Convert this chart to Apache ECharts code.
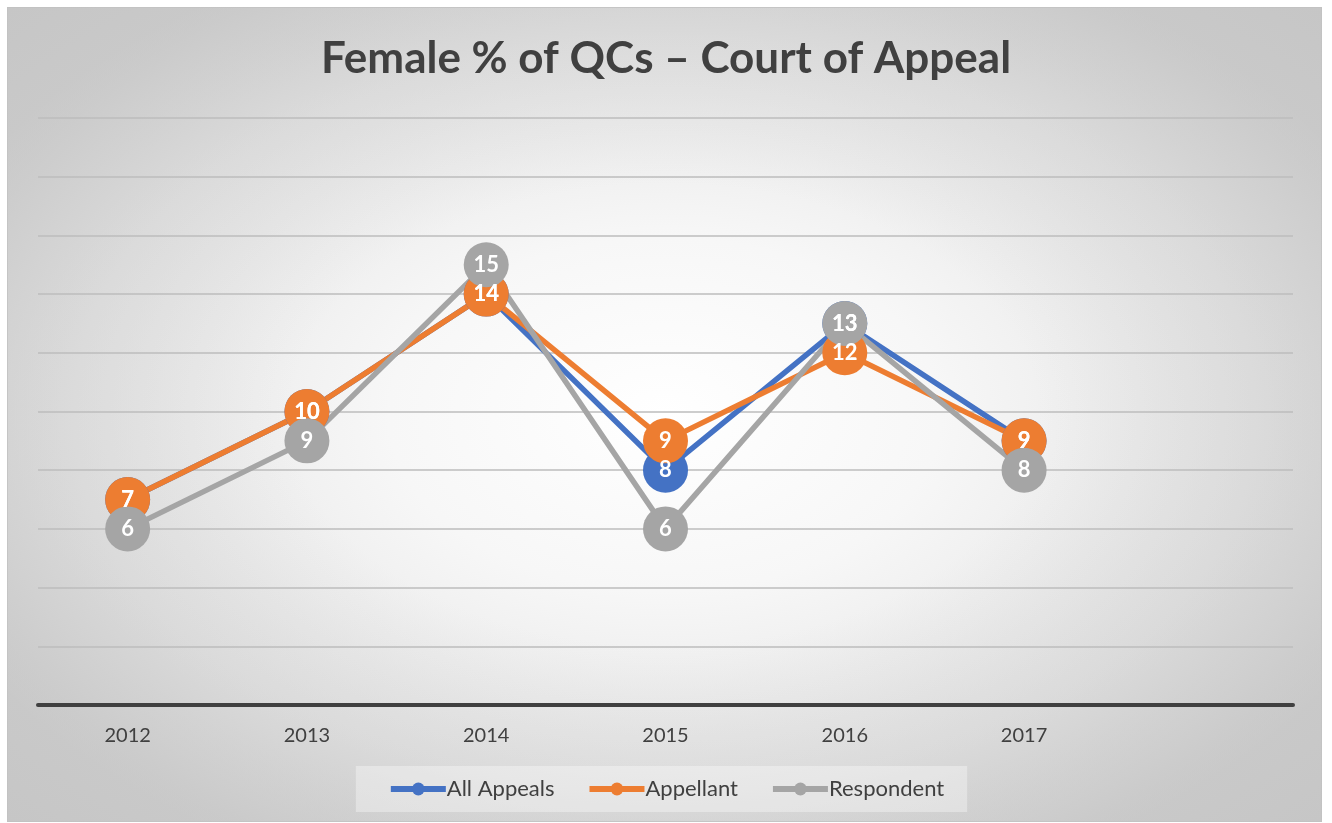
<!DOCTYPE html>
<html>
<head>
<meta charset="utf-8">
<script src="https://cdn.jsdelivr.net/npm/echarts@6/dist/echarts.min.js"></script>
<style>
  html, body { margin:0; padding:0; background:#ffffff; }
  #frame { position:absolute; left:7px; top:7px; width:1315px; height:815px; box-sizing:border-box;
    border:1px solid #c8c8c8;
    background: radial-gradient(ellipse 60% 62% at 50% 50%, #ffffff 0%, #f7f7f7 35%, #e4e4e4 75%, #d2d2d2 100%);
  }
  #frame2 { position:absolute; left:7px; top:7px; width:1315px; height:815px; box-sizing:border-box;
    background: radial-gradient(ellipse farthest-corner at 50% 50%, rgba(255,255,255,0) 40%, rgba(190,190,190,0.6) 100%);
  }
  #chart { position:absolute; left:0; top:0; width:1332px; height:823px; }
</style>
</head>
<body>
<div id="frame"></div>
<div id="frame2"></div>
<div id="chart"></div>
<script>
const titleText = 'Female % of QCs \u2013 Court of Appeal';
const categories = ['2012', '2013', '2014', '2015', '2016', '2017', ''];
const seriesNames = ['All Appeals', 'Appellant', 'Respondent'];
const allAppeals = [7, 10, 14, 8, 13, 9];
const appellant = [7, 10, 14, 9, 12, 9];
const respondent = [6, 9, 15, 6, 13, 8];
const colors = ['#4472C4', '#ED7D31', '#A5A5A5'];

const FONT = 'Lato, "Open Sans", sans-serif';
const chart = echarts.init(document.getElementById('chart'), null, {renderer: 'canvas'});

function mk(name, data, color) {
  return {
    name: name, type: 'line', data: data,
    symbol: 'circle', symbolSize: 45,
    lineStyle: { color: color, width: 5.5 },
    itemStyle: { color: color },
    label: { show: true, position: 'inside', color: '#ffffff', fontWeight: 'bold', fontSize: 22, fontFamily: FONT },
    emphasis: { disabled: true },
    animation: false
  };
}

chart.setOption({
  backgroundColor: 'transparent',
  animation: false,
  title: {
    text: titleText, left: 'center', top: 32,
    textStyle: { fontFamily: FONT, fontWeight: 'bold', fontSize: 44, color: '#404040' }
  },
  legend: {
    bottom: 11, left: 'center',
    backgroundColor: 'rgba(255,255,255,0.35)',
    padding: [12, 23, 12, 32],
    itemGap: 32, itemWidth: 55, itemHeight: 16,
    lineStyle: { width: 6 },
    textStyle: { fontFamily: FONT, fontSize: 22, color: '#404040', padding: [0,0,0,-4] },
    data: seriesNames
  },
  grid: { left: 38, right: 39, top: 118, bottom: 118, containLabel: false },
  xAxis: {
    type: 'category', data: categories, boundaryGap: true,
    axisLine: { lineStyle: { color: '#404040', width: 4 } },
    axisTick: { show: false },
    axisLabel: { fontFamily: FONT, fontSize: 20, color: '#404040', margin: 21 }
  },
  yAxis: {
    type: 'value', min: 0, max: 20, interval: 2,
    axisLabel: { show: false }, axisLine: { show: false }, axisTick: { show: false },
    splitLine: { lineStyle: { color: '#bdbdbd', width: 1.5 } }
  },
  series: [
    mk(seriesNames[0], allAppeals, colors[0]),
    mk(seriesNames[1], appellant, colors[1]),
    mk(seriesNames[2], respondent, colors[2])
  ]
});
</script>
</body>
</html>
